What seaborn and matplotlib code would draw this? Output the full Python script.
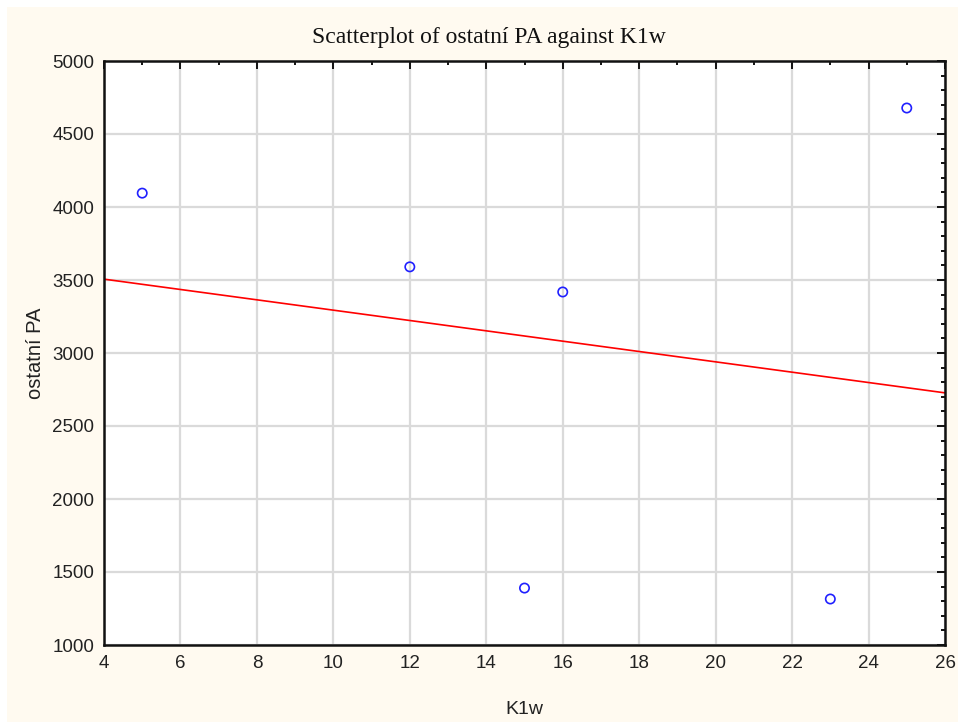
import matplotlib
matplotlib.use("Agg")
import matplotlib.pyplot as plt
from matplotlib.patches import Rectangle
from matplotlib.ticker import MultipleLocator
import seaborn as sns
import pandas as pd

# Observations
k1w = [5, 12, 15, 16, 23, 25]
ostatni_pa = [4095, 3590, 1390, 3418, 1315, 4678]

df = pd.DataFrame({"K1w": k1w, "ostatní PA": ostatni_pa})

sns.set_style("white")
plt.rcParams["font.family"] = ["Liberation Sans", "DejaVu Sans"]

fig = plt.figure(figsize=(9.58, 7.22), dpi=100, facecolor="white")
# cream panel behind the chart, leaving a thin white edge at top and left
fig.patches.append(Rectangle((7 / 958, 0), 1, 1 - 7 / 722, transform=fig.transFigure,
                             facecolor="#FFFAF0", edgecolor="none", zorder=-10))

ax = fig.add_axes([104 / 958, 1 - 645 / 722, (945 - 104) / 958, (645 - 61) / 722])
ax.set_zorder(5)
ax.set_facecolor("white")
ax.set_xlim(4, 26)
ax.set_ylim(1000, 5000)

ax.xaxis.set_major_locator(MultipleLocator(2))
ax.xaxis.set_minor_locator(MultipleLocator(1))
ax.yaxis.set_major_locator(MultipleLocator(500))
ax.yaxis.set_minor_locator(MultipleLocator(100))
ax.grid(True, which="major", color="#DADADA", linewidth=1.6)
ax.set_axisbelow(True)

sns.regplot(data=df, x="K1w", y="ostatní PA", ax=ax, scatter=False, ci=None,
            truncate=False, line_kws=dict(color="red", linewidth=1.2))
sns.scatterplot(data=df, x="K1w", y="ostatní PA", ax=ax, marker="o", s=45,
                facecolors="none", edgecolor="#2020FF", linewidth=1.2, zorder=4)

for side in ["left", "right", "top", "bottom"]:
    ax.spines[side].set_visible(True)
    ax.spines[side].set_color("#111111")
    ax.spines[side].set_linewidth(1.8)

ax.tick_params(which="both", direction="in", top=True, right=True,
               labeltop=False, labelright=False, colors="#111111",
               labelcolor="#222222", labelsize=13.5, width=1.4)
ax.tick_params(which="major", length=6, pad=7)
ax.tick_params(which="minor", length=3)

ax.set_xlabel("K1w", fontsize=14, labelpad=21, color="#222222")
ax.set_ylabel("ostatní PA", fontsize=14.5, labelpad=5, color="#222222")
ax.set_title("Scatterplot of ostatní PA against K1w", family="Liberation Serif",
             fontsize=17, pad=13, x=0.458, color="#111111")

fig.savefig("out.png", dpi=100, facecolor=fig.get_facecolor())
